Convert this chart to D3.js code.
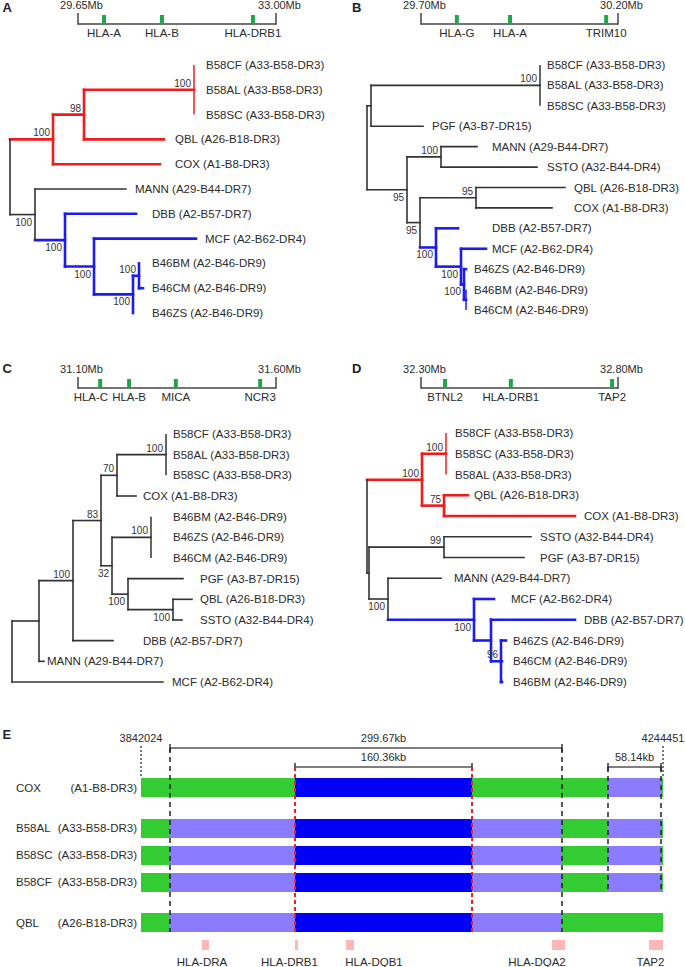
<!DOCTYPE html>
<html><head><meta charset="utf-8">
<script src="https://cdn.jsdelivr.net/npm/d3@7"></script>
<style>
body{margin:0;background:#fff}
svg{display:block;font-family:"Liberation Sans",Arial,Helvetica,sans-serif}
</style></head><body>
<svg id="fig" width="685" height="967"></svg>
<script>
// ======================= DATA =======================
const panelLetters = ["A", "B", "C", "D", "E"];

// cell lines and their HLA haplotypes
const cellLines  = ["B58CF","B58AL","B58SC","QBL","COX","MANN","DBB","MCF","B46BM","B46CM","B46ZS","PGF","SSTO"];
const haplotypes = ["A33-B58-DR3","A33-B58-DR3","A33-B58-DR3","A26-B18-DR3","A1-B8-DR3","A29-B44-DR7","A2-B57-DR7","A2-B62-DR4","A2-B46-DR9","A2-B46-DR9","A2-B46-DR9","A3-B7-DR15","A32-B44-DR4"];

// gene maps (Mb)
const mapRangeA = [29.65, 33.00], mapGenesA = ["HLA-A","HLA-B","HLA-DRB1"],        mapPosA = [30.09, 31.07, 32.61];
const mapRangeB = [29.70, 30.20], mapGenesB = ["HLA-G","HLA-A","TRIM10"],          mapPosB = [29.791, 29.926, 30.170];
const mapRangeC = [31.10, 31.60], mapGenesC = ["HLA-C","HLA-B","MICA","NCR3"],     mapPosC = [31.156, 31.229, 31.347, 31.560];
const mapRangeD = [32.30, 32.80], mapGenesD = ["BTNL2","HLA-DRB1","TAP2"],         mapPosD = [32.361, 32.528, 32.785];

// trees (Newick, branch lengths as drawn; "^" = support label drawn above the branch)
const treeA = "((((B58CF:0,B58AL:0,B58SC:0)100:110,QBL:80)98:31,COX:107)100:43,(MANN:91,(DBB:71,(MCF:102,((B46BM:0,B46CM:4)100:6,B46ZS:0)100:39)100:29)100:30)100:25):2,(PGF:79,SSTO:149)99:34);";
const treeB = "(((B58CF:0,B58AL:0,B58SC:0)100:169,PGF:52):4,((MANN:36,SSTO:96)100:34,((QBL:89,COX:76)95:56,(DBB:22,(MCF:25,(B46ZS:2,(B46BM:0,B46CM:0):2)100:3)100:25)100:16)95:13)95:40);";
const treeC = "((((((B58CF:0,B58AL:0,B58SC:0)100:49,COX:19)70:16,((B46BM:0,B46ZS:0,B46CM:0)100:39,(PGF:55,(QBL:19,SSTO:9)100:45)100:16)32:11)83:28,DBB:40)100:34,MANN:5):27,MCF:151);";
const treeD = "(((B58CF:0,B58SC:0,B58AL:0)100:24,(QBL:24,COX:131)75^:22)100:55,((SSTO:87,PGF:80)99:75,(MANN:53,(MCF:20,(DBB:84,(B46ZS:5,B46CM:1,B46BM:1)96^:10):17)100:86)100:19):2);";

// leaf label columns (same units as branch lengths, from the root)
const labelColA = {B58CF:196,B58AL:196,B58SC:196,QBL:165,COX:165,MANN:125,DBB:142,MCF:195,B46BM:142,B46CM:142,B46ZS:142,PGF:125,SSTO:195};
const labelColB = {B58CF:180,B58AL:180,B58SC:180,PGF:65,MANN:125,SSTO:180,QBL:207,COX:207,DBB:125,MCF:125,B46ZS:107,B46BM:107,B46CM:107};
const labelColC = {B58CF:161,B58AL:161,B58SC:161,COX:131,B46BM:161,B46ZS:161,B46CM:161,PGF:188,QBL:188,SSTO:188,DBB:131,MANN:35,MCF:160};
const labelColD = {B58CF:88,B58SC:88,B58AL:88,QBL:107,COX:217,SSTO:173,PGF:173,MANN:87,MCF:144,DBB:217,B46ZS:146,B46CM:146,B46BM:146};

// coloured clades (defined by two leaves -> their common ancestor)
const redCladeA  = ["B58CF","COX"], blueCladeA = ["DBB","B46ZS"];
const blueCladeB = ["DBB","B46CM"];
const redCladeD  = ["B58CF","COX"], blueCladeD = ["MCF","B46BM"];

// panel E : haplotype block structure
const eRange  = [3842024, 4244451];
const eBounds = [3864381, 3960747, 4097202, 4166586, 4202048, 4242908];
const eRows   = ["COX","B58AL","B58SC","B58CF","QBL"];
const eHaps   = ["(A1-B8-DR3)","(A33-B58-DR3)","(A33-B58-DR3)","(A33-B58-DR3)","(A26-B18-DR3)"];
const eGroup  = [0,1,1,1,2];
const eSegs   = [
  ["g","g","b","g","g","l","g"],
  ["g","l","b","l","g","l","g"],
  ["g","l","b","l","g","l","g"],
  ["g","l","b","l","g","l","g"],
  ["g","l","b","l","g","g","g"]
];
const eSpanLabels = ["299.67kb","160.36kb","58.14kb"];
const eSpanFrom   = [0, 1, 4];   // boundary index
const eSpanTo     = [3, 2, 5];
const eGenes      = ["HLA-DRA","HLA-DRB1","HLA-DQB1","HLA-DQA2","TAP2"];
const eGeneStart  = [3889051, 3960747, 4000065, 4158876, 4233656];
const eGeneEnd    = [3894447, 3963060, 4006232, 4168898, 4244451];
const eGeneLabel  = [3889051, 3956507, 4021651, 4147312, 4234813];

// ======================= DRAWING =======================
const svg = d3.select("#fig");
const RED = "#f01c1c", BLUE = "#1c1cf0", INK = "#2b2b2b", LINE = "#333";

// panel letters
const letterPos = [[2.5,12],[352,12],[2.5,373],[352,373],[2.5,739]];
panelLetters.forEach((L,i)=>{
  svg.append("text").attr("x",letterPos[i][0]).attr("y",letterPos[i][1])
    .attr("font-size",13).attr("font-weight","bold").attr("fill","#222").text(L);
});

function geneMap(range, genes, pos, x0, x1, y){
  const g = svg.append("g");
  const x = d3.scaleLinear().domain(range).range([x0, x1]);
  g.append("line").attr("x1",x0).attr("x2",x1).attr("y1",y).attr("y2",y)
    .attr("stroke","#444").attr("stroke-width",1.5);
  range.forEach(v=>{
    g.append("line").attr("x1",x(v)).attr("x2",x(v)).attr("y1",y-11).attr("y2",y+0.75)
      .attr("stroke","#444").attr("stroke-width",1.5);
    g.append("text").attr("x",x(v)+3.5).attr("y",y-15).attr("text-anchor","middle")
      .attr("font-size",11).attr("fill",INK).text(v.toFixed(2)+"Mb");
  });
  genes.forEach((n,i)=>{
    g.append("rect").attr("x",x(pos[i])-2).attr("y",y-9).attr("width",4).attr("height",9)
      .attr("fill","#1fa64c");
  });
  const texts = genes.map((n,i)=> g.append("text").attr("x",x(pos[i])).attr("y",y+13)
      .attr("text-anchor","middle").attr("font-size",11.5).attr("fill",INK).text(n));
  for(let i=texts.length-2;i>=0;i--){
    const wi = texts[i].node().getComputedTextLength(), wj = texts[i+1].node().getComputedTextLength();
    const ri = +texts[i].attr("x") + wi/2, lj = +texts[i+1].attr("x") - wj/2;
    if(ri > lj - 4) texts[i].attr("x", lj - 4 - wi/2);
  }
}

function parseNewick(s){
  let i = 0;
  function node(){
    const n = {children:[]};
    if(s[i] === "("){
      i++; n.children.push(node());
      while(s[i] === ","){ i++; n.children.push(node()); }
      i++;
    }
    let lab = "";
    while(i < s.length && !",():;".includes(s[i])) lab += s[i++];
    n.len = 0;
    if(s[i] === ":"){ i++; let l=""; while(i < s.length && !",();".includes(s[i])) l += s[i++]; n.len = +l; }
    if(n.children.length){
      if(lab){ n.above = lab.endsWith("^"); n.support = lab.replace("^",""); }
    } else { n.name = lab; delete n.children; }
    return n;
  }
  return node();
}

function drawTree(newick, labelCol, clades, rootX, yTop, yBot){
  const g = svg.append("g");
  const root = d3.hierarchy(parseNewick(newick));
  root.eachBefore(d=>{ d.dist = d.parent ? d.parent.dist + d.data.len : 0; });
  const leaves = root.leaves();
  const maxCol = d3.max(Object.values(labelCol));
  const x = d3.scaleLinear().domain([0, maxCol]).range([rootX, rootX + maxCol]);
  const y = d3.scalePoint().domain(leaves.map(d=>d.data.name)).range([yTop, yBot]);
  root.eachAfter(d=>{
    d.px = x(d.dist);
    d.py = d.children ? (d.children[0].py + d.children[d.children.length-1].py)/2 : y(d.data.name);
  });
  root.each(d=> d.color = null);
  clades.forEach(([pair, col])=>{
    const a = leaves.find(l=>l.data.name===pair[0]), b = leaves.find(l=>l.data.name===pair[1]);
    const anc = a.ancestors();
    const m = b.ancestors().find(n=>anc.includes(n));
    m.each(d=> d.color = col);
  });
  const w = d => d.color ? 2.6 : 1.6;
  // horizontal branches
  root.descendants().filter(d=>d.parent && d.data.len > 0).forEach(d=>{
    g.append("line").attr("x1",d.parent.px).attr("x2",d.px).attr("y1",d.py).attr("y2",d.py)
      .attr("stroke",d.color || LINE).attr("stroke-width",w(d)).attr("stroke-linecap","square");
  });
  // vertical connectors
  root.descendants().filter(d=>d.children).forEach(d=>{
    const allZero = d.children.every(c=>!c.children && c.data.len <= 2);
    g.append("line").attr("x1",d.px).attr("x2",d.px)
      .attr("y1",d.children[0].py).attr("y2",d.children[d.children.length-1].py)
      .attr("stroke",d.color || LINE).attr("stroke-width", allZero ? 1.5 : w(d))
      .attr("stroke-linecap", allZero ? "butt" : "square");
  });
  // support values
  root.descendants().filter(d=>d.parent && d.data.support).forEach(d=>{
    const above = d.data.above || d.parent.children[0] === d;
    g.append("text").attr("x",d.px-3).attr("y", above ? d.py-3 : d.py+11)
      .attr("text-anchor","end").attr("font-size",10).attr("fill","#333").text(d.data.support);
  });
  // leaf labels
  leaves.forEach(d=>{
    const hap = haplotypes[cellLines.indexOf(d.data.name)];
    g.append("text").attr("x",x(labelCol[d.data.name])).attr("y",d.py).attr("dy","0.35em")
      .attr("font-size",11.5).attr("fill",INK).text(d.data.name + " (" + hap + ")");
  });
}

// Panels A-D
geneMap(mapRangeA, mapGenesA, mapPosA, 78, 276, 24);
geneMap(mapRangeB, mapGenesB, mapPosB, 421, 618, 24);
geneMap(mapRangeC, mapGenesC, mapPosC, 78, 276, 388);
geneMap(mapRangeD, mapGenesD, mapPosD, 421, 618, 388);

drawTree(treeA, labelColA, [[redCladeA, RED],[blueCladeA, BLUE]], 10, 65, 313);
drawTree(treeB, labelColB, [[blueCladeB, BLUE]], 367, 65, 310);
drawTree(treeC, labelColC, [], 12, 434, 682);
drawTree(treeD, labelColD, [[redCladeD, RED],[blueCladeD, BLUE]], 367, 433, 682);

// Panel E
(function(){
  const g = svg.append("g");
  const xE = d3.scaleLinear().domain(eRange).range([141, 663]);
  const allB = [eRange[0], ...eBounds, eRange[1]];
  const barH = 19;
  const rowY = i => 778 + i*27 + eGroup[i]*13.5;
  const segColor = {g:"#33cc33", l:"#8a7bff", b:"#0000f5"};
  const levelY = [748, 767];

  // bars
  eRows.forEach((r,i)=>{
    const y0 = rowY(i);
    eSegs[i].forEach((t,k)=>{
      g.append("rect").attr("x",xE(allB[k])).attr("y",y0)
        .attr("width",xE(allB[k+1]) - xE(allB[k])).attr("height",barH)
        .attr("fill",segColor[t]).attr("shape-rendering","crispEdges");
    });
    g.append("text").attr("x",16).attr("y",y0+barH/2+4).attr("font-size",11.5).attr("fill",INK).text(r);
    g.append("text").attr("x",137).attr("y",y0+barH/2+4).attr("text-anchor","end")
      .attr("font-size",11.5).attr("fill",INK).text(eHaps[i]);
  });

  // spans (scale bars)
  const spanLevel = eSpanFrom.map((f,i)=> eSpanFrom.some((f2,j)=> j!==i && f2 > f && eSpanTo[j] < eSpanTo[i]) ? 0 : 1);
  eSpanLabels.forEach((lab,i)=>{
    const y = levelY[spanLevel[i]];
    const a = xE(eBounds[eSpanFrom[i]]), b = xE(eBounds[eSpanTo[i]]);
    g.append("line").attr("x1",a).attr("x2",b).attr("y1",y).attr("y2",y).attr("stroke","#555").attr("stroke-width",1.5);
    [a,b].forEach(xx=> g.append("line").attr("x1",xx).attr("x2",xx).attr("y1",y-4).attr("y2",y+4)
      .attr("stroke","#333").attr("stroke-width",1.5));
    const inner = eSpanFrom.findIndex((f2,j)=> j!==i && f2 > eSpanFrom[i] && eSpanTo[j] < eSpanTo[i]);
    const c = inner >= 0 ? (xE(eBounds[eSpanFrom[inner]]) + xE(eBounds[eSpanTo[inner]]))/2 : (a+b)/2;
    g.append("text").attr("x",c).attr("y",y-6).attr("text-anchor","middle")
      .attr("font-size",11).attr("fill",INK).text(lab);
  });

  // dashed boundary lines
  eBounds.forEach((bv,k)=>{
    const s = eSpanFrom.findIndex((f,i)=> f===k || eSpanTo[i]===k);
    const top = levelY[spanLevel[s]];
    const isRed = eSegs.some(row => row[k]==="b" || row[k+1]==="b");
    let last = 0;
    eSegs.forEach((row,r)=>{ if(row[k] !== row[k+1]) last = r; });
    const bot = rowY(last) + barH;
    g.append("line").attr("x1",xE(bv)).attr("x2",xE(bv)).attr("y1",top).attr("y2",bot)
      .attr("stroke", isRed ? "#e8202a" : "#222").attr("stroke-width", isRed ? 2 : 1.5)
      .attr("stroke-dasharray", isRed ? "4,3" : "5,4");
  });

  // range ends
  eRange.forEach(v=>{
    g.append("line").attr("x1",xE(v)).attr("x2",xE(v)).attr("y1",746).attr("y2",rowY(0))
      .attr("stroke","#333").attr("stroke-width",1.3).attr("stroke-dasharray","2,2");
    g.append("text").attr("x",xE(v)).attr("y",742).attr("text-anchor","middle")
      .attr("font-size",11).attr("fill",INK).text(v);
  });

  // gene markers
  eGenes.forEach((n,i)=>{
    g.append("rect").attr("x",xE(eGeneStart[i])).attr("y",940)
      .attr("width",Math.max(3, xE(eGeneEnd[i]) - xE(eGeneStart[i]))).attr("height",10)
      .attr("fill","#ffb6b6");
    g.append("text").attr("x",xE(eGeneLabel[i])).attr("y",966).attr("text-anchor","middle")
      .attr("font-size",11.5).attr("fill",INK).text(n);
  });
})();
</script>
</body></html>
